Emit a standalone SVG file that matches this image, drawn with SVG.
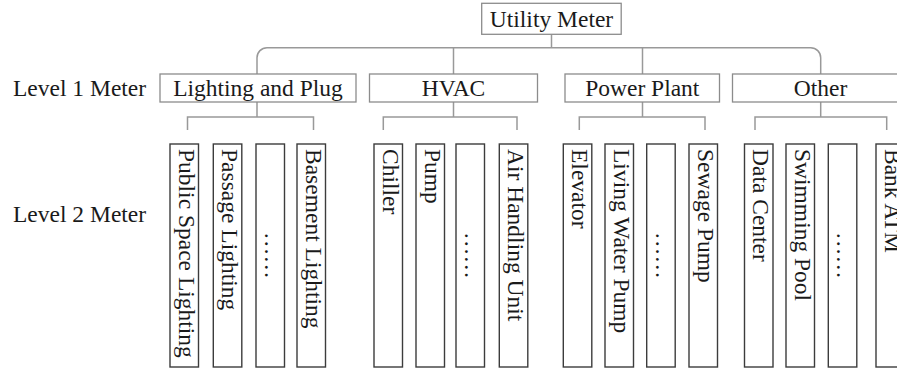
<svg xmlns="http://www.w3.org/2000/svg" width="897" height="371" viewBox="0 0 897 371">
  <style>
    text { font-family: "Liberation Serif", "Times New Roman", serif; font-size: 23.5px; fill: #1a1a1a; }
    .top { fill: #ffffff; stroke: #8c8c8c; stroke-width: 1.3; }
    .l1 { fill: #ffffff; stroke: #8c8c8c; stroke-width: 1.3; }
    .l2 { fill: #ffffff; stroke: #3c3c3c; stroke-width: 1.4; }
    .wire { fill: none; stroke: #999999; stroke-width: 1.5; }
    .mid { text-anchor: middle; }
  </style>

  <!-- row labels -->
  <g id="row-labels">
    <text x="13" y="95.5">Level 1 Meter</text>
    <text x="13" y="221.5">Level 2 Meter</text>
  </g>

  <!-- connectors -->
  <g id="connectors">
    <!-- main bus from the utility meter to the level 1 meters -->
    <path class="wire" d="M551.5,34.3 V47.7"/>
    <path class="wire" d="M257,74 V57.7 A10,10 0 0 1 267,47.7 H810.7 A10,10 0 0 1 820.7,57.7 V74"/>
    <path class="wire" d="M453.5,47.7 V74"/>
    <path class="wire" d="M642.5,47.7 V74"/>
    <!-- level 1 to level 2 brackets -->
    <path class="wire" d="M257,102 V117 M187.5,130 V117 H313.5 V130"/>
    <path class="wire" d="M453.5,102 V117 M383.3,130 V117 H517 V130"/>
    <path class="wire" d="M642.5,102 V117 M579.3,130 V117 H705 V130"/>
    <path class="wire" d="M820.7,102 V117 M755,130 V117 H886.7 V130"/>
  </g>

  <!-- root -->
  <g id="utility-meter">
    <rect class="top" x="481.7" y="3.3" width="139.5" height="31"/>
    <text class="mid" x="551.5" y="26.6">Utility Meter</text>
  </g>

  <!-- level 1 meters -->
  <g id="lighting-and-plug">
    <rect class="l1" x="160" y="74" width="196" height="28"/>
    <text class="mid" x="258" y="95.5">Lighting and Plug</text>
  </g>
  <g id="hvac">
    <rect class="l1" x="369.5" y="74" width="168" height="28"/>
    <text class="mid" x="453.5" y="95.5">HVAC</text>
  </g>
  <g id="power-plant">
    <rect class="l1" x="565" y="74" width="154.5" height="28"/>
    <text class="mid" x="642.3" y="95.5">Power Plant</text>
  </g>
  <g id="other">
    <rect class="l1" x="732.5" y="74" width="176" height="28"/>
    <text class="mid" x="820.5" y="95.5">Other</text>
  </g>

  <!-- level 2 meters: lighting and plug -->
  <g id="public-space-lighting">
    <rect class="l2" x="170" y="144" width="28.5" height="223"/>
    <text transform="translate(178.5,149) rotate(90)">Public Space Lighting</text>
  </g>
  <g id="passage-lighting">
    <rect class="l2" x="213.3" y="144" width="28.5" height="223"/>
    <text transform="translate(221.8,149) rotate(90)">Passage Lighting</text>
  </g>
  <g id="lighting-more">
    <rect class="l2" x="256" y="144" width="28.5" height="223"/>
    <text class="mid" transform="translate(265,255.5) rotate(90)">……</text>
  </g>
  <g id="basement-lighting">
    <rect class="l2" x="297" y="144" width="28.5" height="223"/>
    <text transform="translate(305.5,149) rotate(90)">Basement Lighting</text>
  </g>

  <!-- level 2 meters: hvac -->
  <g id="chiller">
    <rect class="l2" x="374" y="144" width="28.5" height="223"/>
    <text transform="translate(382.5,149) rotate(90)">Chiller</text>
  </g>
  <g id="pump">
    <rect class="l2" x="416" y="144" width="28.5" height="223"/>
    <text transform="translate(424.5,149) rotate(90)">Pump</text>
  </g>
  <g id="hvac-more">
    <rect class="l2" x="456" y="144" width="28.5" height="223"/>
    <text class="mid" transform="translate(465,255.5) rotate(90)">……</text>
  </g>
  <g id="air-handling-unit">
    <rect class="l2" x="499.3" y="144" width="28.5" height="223"/>
    <text transform="translate(507.8,149) rotate(90)">Air Handling Unit</text>
  </g>

  <!-- level 2 meters: power plant -->
  <g id="elevator">
    <rect class="l2" x="563.3" y="144" width="28.5" height="223"/>
    <text transform="translate(571.8,149) rotate(90)">Elevator</text>
  </g>
  <g id="living-water-pump">
    <rect class="l2" x="605" y="144" width="28.5" height="223"/>
    <text transform="translate(613.5,149) rotate(90)">Living Water Pump</text>
  </g>
  <g id="power-more">
    <rect class="l2" x="646.7" y="144" width="28.5" height="223"/>
    <text class="mid" transform="translate(655.7,255.5) rotate(90)">……</text>
  </g>
  <g id="sewage-pump">
    <rect class="l2" x="689" y="144" width="28.5" height="223"/>
    <text transform="translate(697.5,149) rotate(90)">Sewage Pump</text>
  </g>

  <!-- level 2 meters: other -->
  <g id="data-center">
    <rect class="l2" x="744.5" y="144" width="28.5" height="223"/>
    <text transform="translate(753,149) rotate(90)">Data Center</text>
  </g>
  <g id="swimming-pool">
    <rect class="l2" x="786" y="144" width="28.5" height="223"/>
    <text transform="translate(794.5,149) rotate(90)">Swimming Pool</text>
  </g>
  <g id="other-more">
    <rect class="l2" x="828.3" y="144" width="28.5" height="223"/>
    <text class="mid" transform="translate(837.3,255.5) rotate(90)">……</text>
  </g>
  <g id="bank-atm">
    <rect class="l2" x="876" y="144" width="28.5" height="223"/>
    <text transform="translate(884.5,149) rotate(90)">Bank ATM</text>
  </g>
</svg>
